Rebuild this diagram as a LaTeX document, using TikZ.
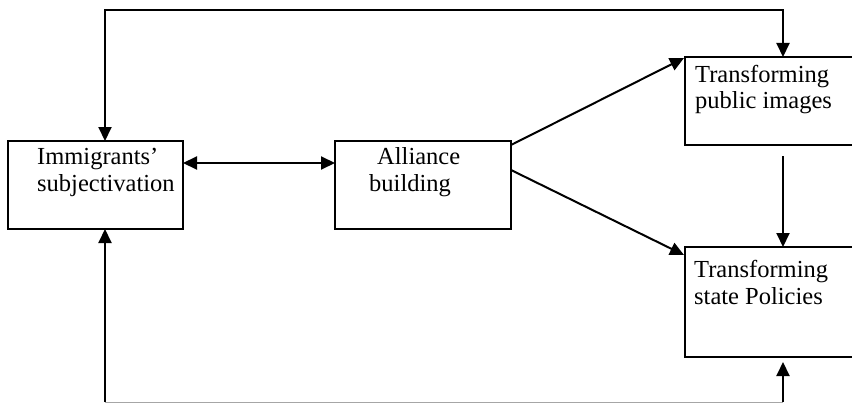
\documentclass[tikz,border=0pt]{standalone}
\usepackage{fontspec}
\setmainfont{Liberation Serif}
\usetikzlibrary{arrows.meta}
\tikzset{
  box/.style={draw, line width=2pt, rectangle, anchor=north west, inner sep=0pt, outer sep=0pt},
  lbl/.style={anchor=base west, align=left, inner sep=0pt, font=\fontsize{24.5}{27}\selectfont},
  conn/.style={line width=2pt, -{Triangle[length=14pt,width=13pt]}},
  conn2/.style={line width=2pt, {Triangle[length=14pt,width=13pt]}-{Triangle[length=14pt,width=13pt]}},
  baseline/.style={line width=1pt, black!35}
}
\begin{document}
\begin{tikzpicture}[x=1pt,y=-1pt]
\useasboundingbox (0,0) rectangle (852,404);
\clip (0,0) rectangle (852,404);
% boxes
\node[box, minimum width=175pt, minimum height=88pt] (imm) at (8,141) {};
\node[box, minimum width=176pt, minimum height=88pt] (all) at (335,141) {};
\node[box, minimum width=185pt, minimum height=88pt] (pub) at (685,57) {};
\node[box, minimum width=185pt, minimum height=110pt] (st) at (685,247) {};
% texts (anchor = baseline of the last line)
\node[lbl] (immt) at (37,191) {Immigrants’\\subjectivation};
\node[lbl] (allt) at (369,191) {\hspace{8pt}Alliance\\building};
\node[lbl] (pubt) at (695,109) {Transforming\\public images};
\node[lbl] (stt) at (694,304) {Transforming\\state Policies};
% helper coordinates
\coordinate (tl) at (105,10);
\coordinate (tr) at (783,10);
\coordinate (bl) at (105,402);
\coordinate (br) at (783,402);
\coordinate (pubd) at (783,156);
% connectors
\draw[conn2] (imm.north -| tl) -- (tl) -- (tr) -- (tr |- pub.north);
\draw[conn2] ([yshift=22pt]imm.east) -- ([yshift=22pt]all.west);
\draw[conn] ([yshift=-4pt]all.north east) -- ([yshift=-1pt,xshift=-1pt]pub.north west);
\draw[conn] ([yshift=-29pt]all.north east) -- ([yshift=-8pt,xshift=-1pt]st.north west);
\draw[conn] (pubd) -- (pubd |- st.north);
\draw[baseline] (bl) -- (br);
\draw[conn] (bl) -- (imm.south -| bl);
\draw[conn, shorten >=5pt] (br) -- (st.south -| br);
\end{tikzpicture}
\end{document}
